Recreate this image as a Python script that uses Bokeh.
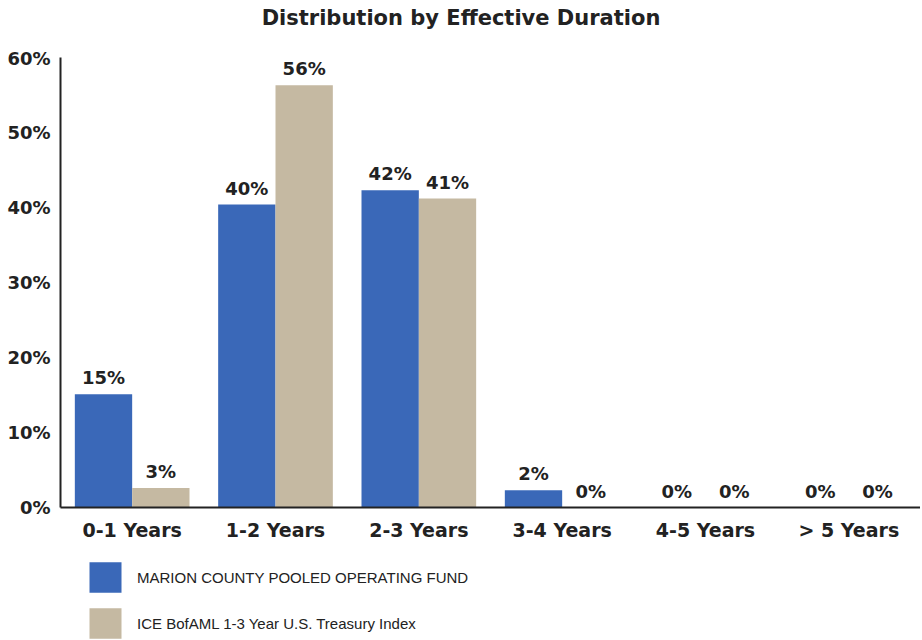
from bokeh.plotting import figure
from bokeh.layouts import column
from bokeh.models import (ColumnDataSource, FactorRange, Range1d, FixedTicker,
                          PrintfTickFormatter, Legend, LegendItem, Div)
from bokeh.transform import dodge
from bokeh.core.properties import value
from bokeh.embed import file_html
from bokeh.resources import INLINE

# ---- data ----
categories = ["0-1 Years", "1-2 Years", "2-3 Years", "3-4 Years", "4-5 Years", "> 5 Years"]
fund_values = [15.1, 40.4, 42.3, 2.3, 0.0, 0.0]
index_values = [2.6, 56.3, 41.2, 0.0, 0.0, 0.0]
series_names = ["MARION COUNTY POOLED OPERATING FUND",
                "ICE BofAML 1-3 Year U.S. Treasury Index"]
y_ticks = [0, 10, 20, 30, 40, 50, 60]
title_text = "Distribution by Effective Duration"

BLUE = "#3A68B8"
TAN = "#C5B9A2"
DARK = "#222222"
BOLD_FONT = "DejaVu Sans"

src = ColumnDataSource(dict(
    cat=categories,
    fund=fund_values,
    index=index_values,
    fund_lbl=[f"{round(v)}%" for v in fund_values],
    index_lbl=[f"{round(v)}%" for v in index_values],
))

# ---- title ----
title = Div(text=title_text, width=922, height=47, margin=0,
            styles={"font-family": "'DejaVu Sans'", "font-weight": "bold",
                    "font-size": "21px", "color": DARK, "text-align": "center",
                    "line-height": "36px"})

# ---- chart ----
p = figure(x_range=FactorRange(*categories), y_range=Range1d(0, 60),
           frame_width=860, frame_height=450,
           output_backend="svg", toolbar_location=None,
           min_border_left=60, min_border_right=0, min_border_top=10,
           min_border_bottom=26, outline_line_color=None)

r1 = p.vbar(x=dodge("cat", -0.2, range=p.x_range), top="fund", width=0.4,
            source=src, fill_color=BLUE, line_color=None)
r2 = p.vbar(x=dodge("cat", 0.2, range=p.x_range), top="index", width=0.4,
            source=src, fill_color=TAN, line_color=None)

common = dict(text_align="center", text_baseline="bottom", y_offset=-6,
              text_font=value(BOLD_FONT), text_font_style="bold",
              text_font_size="18px", text_color=DARK, source=src)
p.text(x=dodge("cat", -0.2, range=p.x_range), y="fund", text="fund_lbl", **common)
p.text(x=dodge("cat", 0.2, range=p.x_range), y="index", text="index_lbl", **common)

p.xgrid.grid_line_color = None
p.ygrid.grid_line_color = None

p.yaxis.ticker = FixedTicker(ticks=y_ticks)
p.yaxis.formatter = PrintfTickFormatter(format="%d%%")
for ax in (p.xaxis[0], p.yaxis[0]):
    ax.axis_line_color = DARK
    ax.axis_line_width = 2
    ax.major_tick_line_color = None
    ax.minor_tick_line_color = None
    ax.major_label_text_font = BOLD_FONT
    ax.major_label_text_font_style = "bold"
    ax.major_label_text_color = DARK
p.yaxis.major_label_text_font_size = "18px"
p.yaxis.major_label_standoff = 4
p.xaxis.major_label_text_font_size = "19px"
p.xaxis.major_label_standoff = 5

# ---- legend strip below the chart ----
lg = figure(width=920, height=106, x_range=FactorRange(*categories),
            y_range=Range1d(1000, 1001),
            x_axis_type=None, y_axis_type=None,
            output_backend="svg", toolbar_location=None,
            min_border_left=60, min_border_right=0, min_border_top=0,
            min_border_bottom=0, outline_line_color=None)
lg.xgrid.grid_line_color = None
lg.ygrid.grid_line_color = None
d1 = lg.vbar(x=dodge("cat", -0.2, range=lg.x_range), top="fund", width=0.4,
             source=src, fill_color=BLUE, line_color=None)
d2 = lg.vbar(x=dodge("cat", 0.2, range=lg.x_range), top="index", width=0.4,
             source=src, fill_color=TAN, line_color=None)

legend = Legend(items=[LegendItem(label=series_names[0], renderers=[d1]),
                       LegendItem(label=series_names[1], renderers=[d2])],
                orientation="vertical", location=(25, 7),
                glyph_width=40, glyph_height=38, spacing=8,
                label_standoff=12, margin=16, padding=10,
                border_line_color=None, background_fill_alpha=0,
                label_text_font="Liberation Sans", label_text_font_size="15px",
                label_text_color=DARK)
lg.add_layout(legend, "center")

layout = column(title, p, lg, spacing=0)
open("out.html", "w").write(file_html(layout, INLINE))
